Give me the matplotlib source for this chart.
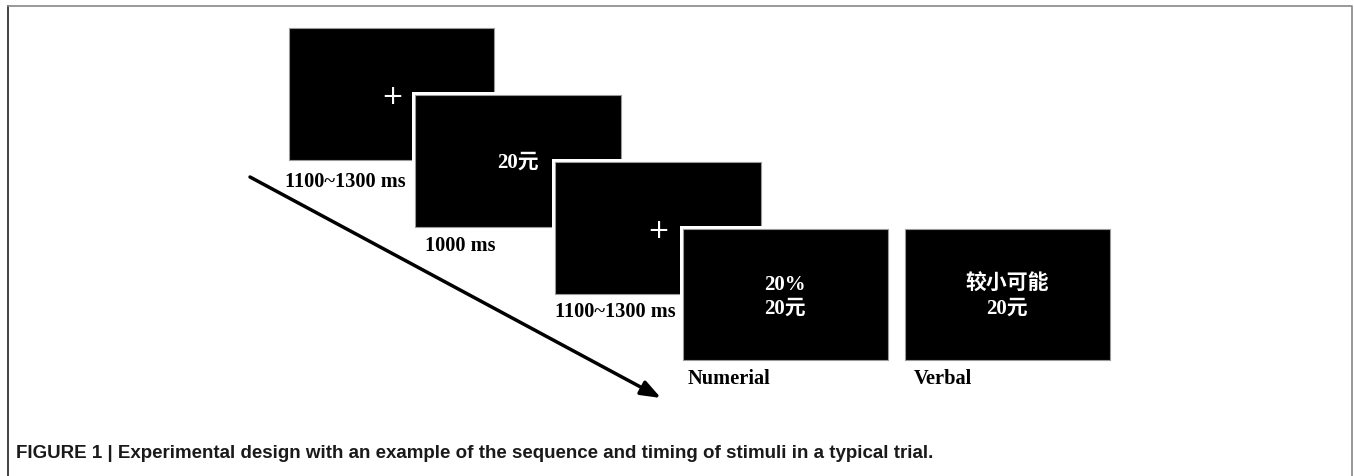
import matplotlib
matplotlib.use("Agg")
import matplotlib.pyplot as plt
from matplotlib.patches import Rectangle

# screens in the trial sequence
screen_text = ["+", "20元", "+", "20%\n20元", "较小可能\n20元"]
screen_label = ["1100~1300 ms", "1000 ms", "1100~1300 ms", "Numerial", "Verbal"]
caption = "FIGURE 1 | Experimental design with an example of the sequence and timing of stimuli in a typical trial."

# layout in pixels (x0, y0, x1, y1)
boxes = [(289, 29, 494, 161), (415, 96, 621, 228), (555, 163, 761, 295),
         (683, 230, 888, 361), (905, 230, 1110, 361)]
text_pos = [(392, 97), (518, 163), (658, 231), (785, 297), (1007, 297)]
label_pos = [(285, 182), (425, 246), (555, 312), (688, 379), (914, 379)]

W, H = 1354, 477
fig = plt.figure(figsize=(W / 100, H / 100), dpi=100)
ax = fig.add_axes([0, 0, 1, 1])
ax.set_xlim(0, W)
ax.set_ylim(H, 0)
ax.axis("off")

serif = ["Liberation Serif", "Noto Sans CJK SC"]

# outer frame
ax.plot([8, 8], [H, 7], color="#222222", lw=1.2)
ax.plot([8, 1352, 1352], [7, 7, H], color="#888888", lw=1.2)

for i, (x0, y0, x1, y1) in enumerate(boxes):
    ax.add_patch(Rectangle((x0 - 3, y0 - 3), x1 - x0 + 6, y1 - y0 + 6,
                           facecolor="white", edgecolor="none", zorder=2 + i * 2))
    ax.add_patch(Rectangle((x0, y0), x1 - x0, y1 - y0, facecolor="black",
                           edgecolor="#9a9a9a", lw=0.8, zorder=3 + i * 2))
    txt = screen_text[i]
    if txt == "+":
        ax.text(text_pos[i][0], text_pos[i][1], txt, color="white", fontsize=19,
                ha="center", va="center", family="DejaVu Sans", zorder=20)
    else:
        ax.text(text_pos[i][0], text_pos[i][1], txt, color="white", fontsize=15,
                ha="center", va="center", family=serif, fontweight="bold",
                linespacing=1.25, zorder=20)
    ax.text(label_pos[i][0], label_pos[i][1], screen_label[i], color="black",
            fontsize=14.7, ha="left", va="center", family=serif,
            fontweight="bold", zorder=20)

# time arrow
ax.annotate("", xy=(661, 399), xytext=(250, 178),
            arrowprops=dict(arrowstyle="-|>,head_length=1.2,head_width=0.45",
                            color="black", lw=2.5, shrinkA=0, shrinkB=0))

ax.text(16, 454, caption, fontsize=13.5, fontweight="bold", family="Liberation Sans",
        color="#1a1a1a", ha="left", va="center")

fig.savefig("out.png", dpi=100)
